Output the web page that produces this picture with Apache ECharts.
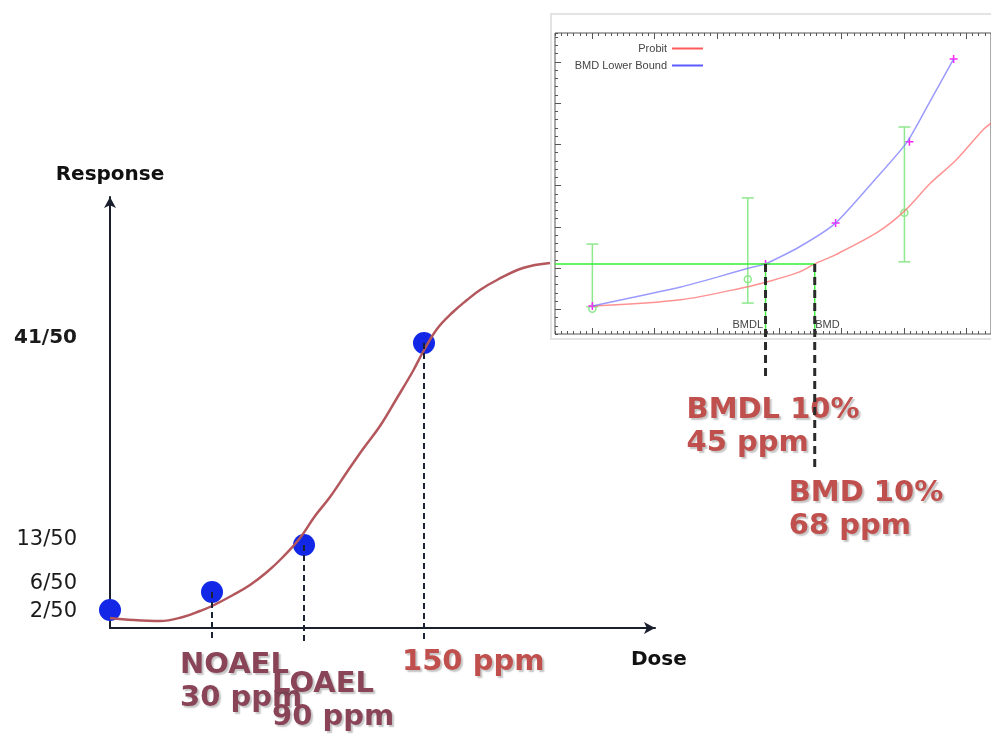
<!DOCTYPE html>
<html><head><meta charset="utf-8">
<script src="https://cdn.jsdelivr.net/npm/echarts@6/dist/echarts.min.js"></script>
<style>html,body{margin:0;padding:0;background:#fff}#c{width:991px;height:734px}</style>
</head><body><div id="c"></div>
<script>
// ---------- main schematic (positions in schematic units) ----------
const dosePos = [0, 102, 194, 314];
const responsePos = [18, 36, 83, 285];
const responseTickPos = [290, 88, 44, 16];
const responseTickLabels = ['41/50', '13/50', '6/50', '2/50'];
const curveX = [0, 23, 50, 73, 90, 102, 123, 140, 157, 173, 190, 205, 220, 237, 253, 270, 287, 303, 313, 327, 343, 357, 370, 387, 413, 440];
const curveY = [10, 8, 7, 11, 17, 22, 33, 43, 56, 71, 90, 112, 131, 156, 179, 202, 230, 257, 276, 299, 316, 328, 338, 348, 360, 365];
const doseLabelText = ['NOAEL\n30 ppm', 'LOAEL\n90 ppm', '150 ppm'];
const dropBottom = -14;

// ---------- inset BMD plot ----------
const probitX = [0, 28.4, 49.6, 55.9, 66.3, 71.4, 78, 91.6, 100.2, 108.6, 116.8, 125.4, 128.5];
const probitY = [0.8, 2.3, 5.4, 6.6, 9.0, 11.0, 13.2, 18.7, 23.8, 30.6, 36.2, 43.5, 45.4];
const lowerX = [0, 28.4, 40.1, 50.3, 55.6, 66.4, 78.1, 90.7, 101.1, 108.7, 116.0];
const lowerY = [0.8, 5.4, 7.8, 10.0, 11.0, 15.1, 20.9, 31.4, 40.6, 50.8, 60.7];
const plusX = [0, 55.6, 78.1, 101.8, 116.0];
const plusY = [0.8, 11.0, 20.9, 40.6, 60.7];
const errX = [0, 49.9, 100.2];
const errLo = [0.6, 1.5, 11.5];
const errHi = [15.8, 27.0, 44.2];
const errMid = [0.1, 7.3, 23.4];
const bmrLevel = 11.0;
const bmdl = 55.6;
const bmd = 71.4;
const bmdlDrop = -16.7;
const bmdDrop = -39.0;
const bmdLabelText = ['BMDL 10%\n45 ppm', 'BMD 10%\n68 ppm'];
const xMajorTicks = [0, 20, 40, 60, 80, 100, 120];
const yMajorTicks = [0, 10, 20, 30, 40, 50, 60];

const zip = (a, b) => a.map((v, i) => [v, b[i]]);
const big = {
  fontFamily: 'DejaVu Sans', fontSize: 29, fontWeight: 'bold', lineHeight: 33,
  textShadowColor: 'rgba(60,60,60,0.3)', textShadowOffsetX: 2, textShadowOffsetY: 2, textShadowBlur: 1.5
};
const labelCols = ['#8a4458', '#8a4458', '#c0504d'];
const labelOffsets = [[-32, 20.5], [-32, 39.5], [-22, 17.5]];

const chart = echarts.init(document.getElementById('c'));
const insetXAxis = (pos, custom) => ({
  gridIndex: 1, type: 'value', position: pos, min: -12, max: 128,
  interval: custom ? undefined : 2,
  axisLine: { show: false, onZero: false },
  axisTick: Object.assign({ show: true, inside: true, length: custom ? 6 : 3, lineStyle: { color: '#555', width: 1 } }, custom ? { customValues: xMajorTicks } : {}),
  axisLabel: { show: false }, splitLine: { show: false }
});
const insetYAxis = (custom) => ({
  gridIndex: 1, type: 'value', position: 'left', min: -6, max: 67,
  interval: custom ? undefined : 2,
  axisLine: { show: false, onZero: false },
  axisTick: Object.assign({ show: true, inside: true, length: custom ? 6 : 3, lineStyle: { color: '#555', width: 1 } }, custom ? { customValues: yMajorTicks } : {}),
  axisLabel: { show: false }, splitLine: { show: false }
});

chart.setOption({
  animation: false,
  backgroundColor: '#fff',
  graphic: [{
    type: 'rect', z: -10,
    shape: { x: 551, y: 14, width: 460, height: 325 },
    style: { fill: '#fff', stroke: '#e3e3e3', lineWidth: 2 }
  }],
  legend: [
    { data: ['Probit'], right: 283, top: 38, align: 'right', icon: 'rect', itemWidth: 31, itemHeight: 2, itemGap: 0,
      textStyle: { fontFamily: 'Liberation Sans', fontSize: 11, color: '#444' } },
    { data: ['BMD Lower Bound'], right: 283, top: 55, align: 'right', icon: 'rect', itemWidth: 31, itemHeight: 2, itemGap: 0,
      textStyle: { fontFamily: 'Liberation Sans', fontSize: 11, color: '#444' } }
  ],
  grid: [
    { left: 110, top: 197, width: 545, height: 431 },
    { left: 555, top: 33, width: 443, height: 301, show: true, borderColor: '#555', borderWidth: 1, backgroundColor: '#fff' }
  ],
  xAxis: [
    { gridIndex: 0, type: 'value', min: 0, max: 545,
      name: 'Dose', nameLocation: 'end', nameGap: -24,
      nameTextStyle: { fontFamily: 'DejaVu Sans', fontSize: 20, fontWeight: 'bold', color: '#111', align: 'left', verticalAlign: 'top', padding: [22, 0, 0, 0] },
      axisLine: { show: true, onZero: false, symbol: ['none', 'arrow'], symbolSize: [9, 11], lineStyle: { color: '#1a1f2e', width: 2 } },
      axisTick: { show: false }, axisLabel: { show: false }, splitLine: { show: false } },
    insetXAxis('bottom', false), insetXAxis('bottom', true),
    insetXAxis('top', false), insetXAxis('top', true)
  ],
  yAxis: [
    { gridIndex: 0, type: 'value', min: 0, max: 431,
      name: 'Response', nameLocation: 'end', nameGap: 12,
      nameTextStyle: { fontFamily: 'DejaVu Sans', fontSize: 20, fontWeight: 'bold', color: '#111' },
      axisLine: { show: true, onZero: false, symbol: ['none', 'arrow'], symbolSize: [9, 11], lineStyle: { color: '#1a1f2e', width: 2 } },
      axisTick: { show: false }, splitLine: { show: false },
      axisLabel: {
        show: true, customValues: responseTickPos, margin: 33,
        formatter: v => {
          const i = responseTickPos.indexOf(v);
          const t = i >= 0 ? responseTickLabels[i] : '';
          return i === 0 ? '{b|' + t + '}' : '{n|' + t + '}';
        },
        rich: {
          b: { fontFamily: 'DejaVu Sans', fontSize: 20, fontWeight: 'bold', color: '#1a1a1a' },
          n: { fontFamily: 'DejaVu Sans', fontSize: 21, color: '#1a1a1a' }
        }
      } },
    insetYAxis(false), insetYAxis(true)
  ],
  series: [
    // main chart
    { type: 'scatter', name: 'Observed', xAxisIndex: 0, yAxisIndex: 0, clip: false,
      data: zip(dosePos, responsePos), symbolSize: 22, itemStyle: { color: '#1228e6', opacity: 1 } },
    { type: 'line', name: 'Dose-response', xAxisIndex: 0, yAxisIndex: 0, clip: false,
      data: zip(curveX, curveY), smooth: 0.4, showSymbol: false, symbol: 'none',
      lineStyle: { color: '#b4575c', width: 2.5 } },
    ...dosePos.slice(1).map((x, i) => ({
      type: 'line', name: 'drop' + i, xAxisIndex: 0, yAxisIndex: 0, clip: false, symbol: 'none',
      data: [[x, responsePos[i + 1]], [x, dropBottom]],
      lineStyle: { color: '#1a2233', width: 2, type: [6, 4] }
    })),
    { type: 'scatter', name: 'doseLabels', xAxisIndex: 0, yAxisIndex: 0, clip: false, symbolSize: 1,
      itemStyle: { color: 'rgba(0,0,0,0)', opacity: 1 }, silent: true,
      data: dosePos.slice(1).map((x, i) => ({
        value: [x, 0],
        label: Object.assign({ show: true, position: 'inside', align: 'left', verticalAlign: 'top',
          offset: labelOffsets[i], color: labelCols[i], formatter: doseLabelText[i] }, big)
      })) },
    // inset
    { type: 'line', name: 'Probit', xAxisIndex: 1, yAxisIndex: 1, symbol: 'none', smooth: 0.3,
      data: zip(probitX, probitY), color: '#ff5a5a',
      lineStyle: { color: '#ff6e6e', width: 1.5, opacity: 0.75 } },
    { type: 'line', name: 'BMD Lower Bound', xAxisIndex: 1, yAxisIndex: 1, symbol: 'none', smooth: 0.2,
      data: zip(lowerX, lowerY), color: '#5a5aff',
      lineStyle: { color: '#7a7aff', width: 1.5, opacity: 0.75 } },
    { type: 'line', name: 'BMR', xAxisIndex: 1, yAxisIndex: 1, symbol: 'none', clip: false,
      data: [[-12, bmrLevel], [bmd, bmrLevel]], lineStyle: { color: '#33f033', width: 1.5 } },
    { type: 'line', name: 'bmdlGreen', xAxisIndex: 1, yAxisIndex: 1, symbol: 'none',
      data: [[bmdl, bmrLevel], [bmdl, -6]], lineStyle: { color: '#44ee44', width: 1.5 } },
    { type: 'line', name: 'bmdGreen', xAxisIndex: 1, yAxisIndex: 1, symbol: 'none',
      data: [[bmd, bmrLevel], [bmd, -6]], lineStyle: { color: '#44ee44', width: 1.5 } },
    { type: 'custom', name: 'errorbars', xAxisIndex: 1, yAxisIndex: 1,
      data: errX.map((x, i) => [x, errLo[i], errHi[i], errMid[i]]),
      renderItem: (params, api) => {
        const top = api.coord([api.value(0), api.value(2)]);
        const bot = api.coord([api.value(0), api.value(1)]);
        const mid = api.coord([api.value(0), api.value(3)]);
        const st = { stroke: '#8ee88e', lineWidth: 1.5, fill: 'none' };
        return { type: 'group', children: [
          { type: 'line', shape: { x1: top[0], y1: top[1], x2: bot[0], y2: bot[1] }, style: st },
          { type: 'line', shape: { x1: top[0] - 6, y1: top[1], x2: top[0] + 6, y2: top[1] }, style: st },
          { type: 'line', shape: { x1: bot[0] - 6, y1: bot[1], x2: bot[0] + 6, y2: bot[1] }, style: st },
          { type: 'circle', shape: { cx: mid[0], cy: mid[1], r: 3.5 }, style: st }
        ] };
      } },
    { type: 'scatter', name: 'fitted', xAxisIndex: 1, yAxisIndex: 1,
      data: zip(plusX, plusY), symbol: 'path://M0,5L10,5M5,0L5,10', symbolSize: 8,
      itemStyle: { color: 'rgba(0,0,0,0)', borderColor: '#ff22ff', borderWidth: 1.5, opacity: 1 } },
    { type: 'line', name: 'bmdlDash', xAxisIndex: 1, yAxisIndex: 1, symbol: 'none', clip: false,
      data: [[bmdl, bmrLevel], [bmdl, bmdlDrop]], lineStyle: { color: '#2a2a2a', width: 3, type: [8, 5] } },
    { type: 'line', name: 'bmdDash', xAxisIndex: 1, yAxisIndex: 1, symbol: 'none', clip: false,
      data: [[bmd, bmrLevel], [bmd, bmdDrop]], lineStyle: { color: '#2a2a2a', width: 3, type: [8, 5] } },
    { type: 'scatter', name: 'bmdTags', xAxisIndex: 1, yAxisIndex: 1, symbolSize: 1, clip: false, silent: true,
      itemStyle: { color: 'rgba(0,0,0,0)', opacity: 1 },
      data: [
        { value: [bmdl, -3.8], label: { show: true, position: 'left', distance: 2, formatter: 'BMDL', fontFamily: 'Liberation Sans', fontSize: 11, color: '#444' } },
        { value: [bmd, -3.8], label: { show: true, position: 'right', distance: 0, formatter: 'BMD', fontFamily: 'Liberation Sans', fontSize: 11, color: '#444' } }
      ] },
    { type: 'scatter', name: 'bmdLabels', xAxisIndex: 1, yAxisIndex: 1, symbolSize: 1, clip: false, silent: true,
      itemStyle: { color: 'rgba(0,0,0,0)', opacity: 1 },
      data: [
        { value: [bmdl, bmdlDrop], label: Object.assign({ show: true, position: 'inside', align: 'left', verticalAlign: 'top', offset: [-79, 15.5], color: '#c0504d', formatter: bmdLabelText[0] }, big) },
        { value: [bmd, bmdDrop], label: Object.assign({ show: true, position: 'inside', align: 'left', verticalAlign: 'top', offset: [-26, 6.5], color: '#c0504d', formatter: bmdLabelText[1] }, big) }
      ] }
  ]
});
</script></body></html>
